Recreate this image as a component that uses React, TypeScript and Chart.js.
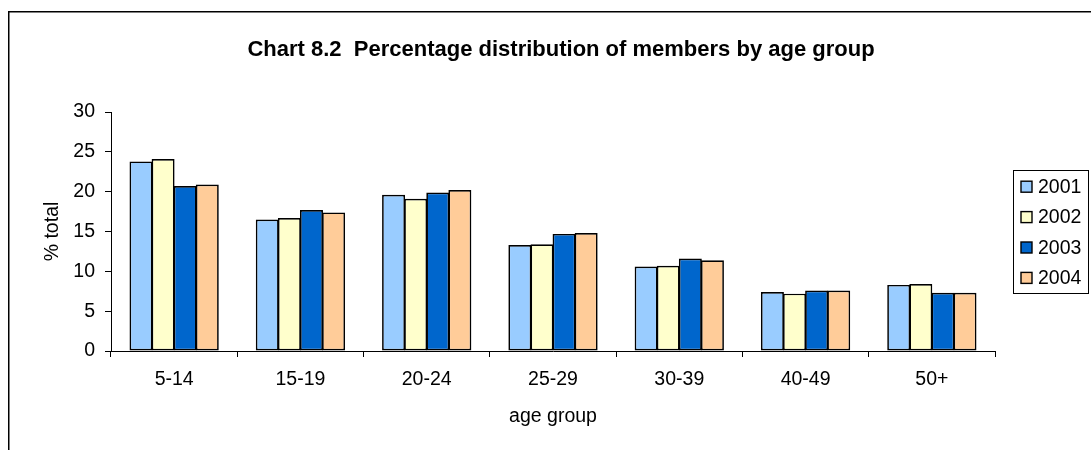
import React, { useEffect, useRef } from 'react';
import { Chart, registerables } from 'chart.js';

Chart.register(...registerables);

const categories = ['5-14', '15-19', '20-24', '25-29', '30-39', '40-49', '50+'];
const seriesLabels = ['2001', '2002', '2003', '2004'];
const values2001 = [23.8, 16.5, 19.6, 13.3, 10.6, 7.4, 8.3];
const values2002 = [24.1, 16.7, 19.1, 13.4, 10.7, 7.2, 8.4];
const values2003 = [20.7, 17.7, 19.9, 14.7, 11.6, 7.6, 7.3];
const values2004 = [20.9, 17.4, 20.2, 14.8, 11.4, 7.6, 7.3];
const seriesColors = ['#99CCFF', '#FFFFCC', '#0066CC', '#FFCC99'];
const yTicks = [0, 5, 10, 15, 20, 25, 30];
const chartTitle = 'Chart 8.2  Percentage distribution of members by age group';
const xTitle = 'age group';
const yTitle = '% total';

const FONT = '"Liberation Sans", Arial, Helvetica, sans-serif';
const TXT = 19.5;

const decorPlugin = {
  id: 'decor',
  afterDraw(chart: any) {
    const ctx = chart.ctx;
    ctx.save();
    // outer frame
    ctx.strokeStyle = '#000';
    ctx.lineWidth = 1.5;
    ctx.beginPath();
    ctx.moveTo(8.75, 450);
    ctx.lineTo(8.75, 11.75);
    ctx.lineTo(1091, 11.75);
    ctx.stroke();
    // title
    ctx.font = `bold 22px ${FONT}`;
    ctx.fillStyle = '#000';
    ctx.textAlign = 'center';
    ctx.textBaseline = 'alphabetic';
    ctx.fillText(chartTitle, 561, 56);
    // legend
    ctx.lineWidth = 1;
    ctx.strokeStyle = '#000';
    ctx.strokeRect(1013.5, 170.5, 75, 123);
    chart.data.datasets.forEach((ds: any, i: number) => {
      const cy = 186.7 + i * 30.4;
      ctx.fillStyle = ds.backgroundColor;
      ctx.fillRect(1021, cy - 5.5, 11, 11);
      ctx.strokeStyle = '#000';
      ctx.lineWidth = 1.4;
      ctx.strokeRect(1021, cy - 5.5, 11, 11);
      ctx.fillStyle = '#000';
      ctx.font = `${TXT}px ${FONT}`;
      ctx.textAlign = 'left';
      ctx.textBaseline = 'alphabetic';
      ctx.fillText(ds.label, 1038, cy + 6.2);
    });
    ctx.restore();
  },
};

export default function App() {
  const ref = useRef<HTMLCanvasElement | null>(null);

  useEffect(() => {
    if (!ref.current) return;
    const allValues = [values2001, values2002, values2003, values2004];
    const chart = new Chart(ref.current, {
      type: 'bar',
      data: {
        labels: categories,
        datasets: seriesLabels.map((label, i) => ({
          label,
          data: allValues[i],
          backgroundColor: seriesColors[i],
          borderColor: '#000',
          borderWidth: 1.7,
          borderSkipped: false,
          categoryPercentage: 0.7,
          barPercentage: 1.04,
        })),
      },
      options: {
        responsive: false,
        animation: false,
        devicePixelRatio: 1,
        layout: { padding: { left: 41, top: 112, right: 96, bottom: 22 } },
        plugins: {
          legend: { display: false },
          title: { display: false },
          tooltip: { enabled: false },
        },
        scales: {
          x: {
            grid: {
              display: true,
              drawOnChartArea: false,
              drawTicks: true,
              tickLength: 6,
              color: '#000',
              offset: true,
            },
            border: { display: true, color: '#000', width: 1 },
            ticks: {
              font: { size: TXT, family: FONT },
              color: '#000',
              padding: 11,
              maxRotation: 0,
              autoSkip: false,
            },
            title: {
              display: true,
              text: xTitle,
              font: { size: TXT, family: FONT },
              color: '#000',
              padding: { top: 0, bottom: 0 },
            },
            afterFit: (s: any) => {
              s.height = 77;
            },
          },
          y: {
            min: 0,
            max: 30,
            afterBuildTicks: (s: any) => {
              s.ticks = yTicks.map((v) => ({ value: v }));
            },
            ticks: {
              font: { size: TXT, family: FONT },
              color: '#000',
              padding: 10,
            },
            grid: {
              display: true,
              drawOnChartArea: false,
              drawTicks: true,
              tickLength: 6,
              color: '#000',
            },
            border: { display: true, color: '#000', width: 1 },
            title: {
              display: true,
              text: yTitle,
              font: { size: TXT, family: FONT },
              color: '#000',
              padding: { top: 0, bottom: 0 },
            },
            afterFit: (s: any) => {
              s.width = 70;
            },
          },
        },
      },
      plugins: [decorPlugin],
    });
    return () => chart.destroy();
  }, []);

  return (
    <div style={{ position: 'fixed', left: 0, top: 0, width: 1091, height: 450, background: '#fff' }}>
      <canvas ref={ref} width={1091} height={450} style={{ display: 'block', width: 1091, height: 450 }} />
    </div>
  );
}
